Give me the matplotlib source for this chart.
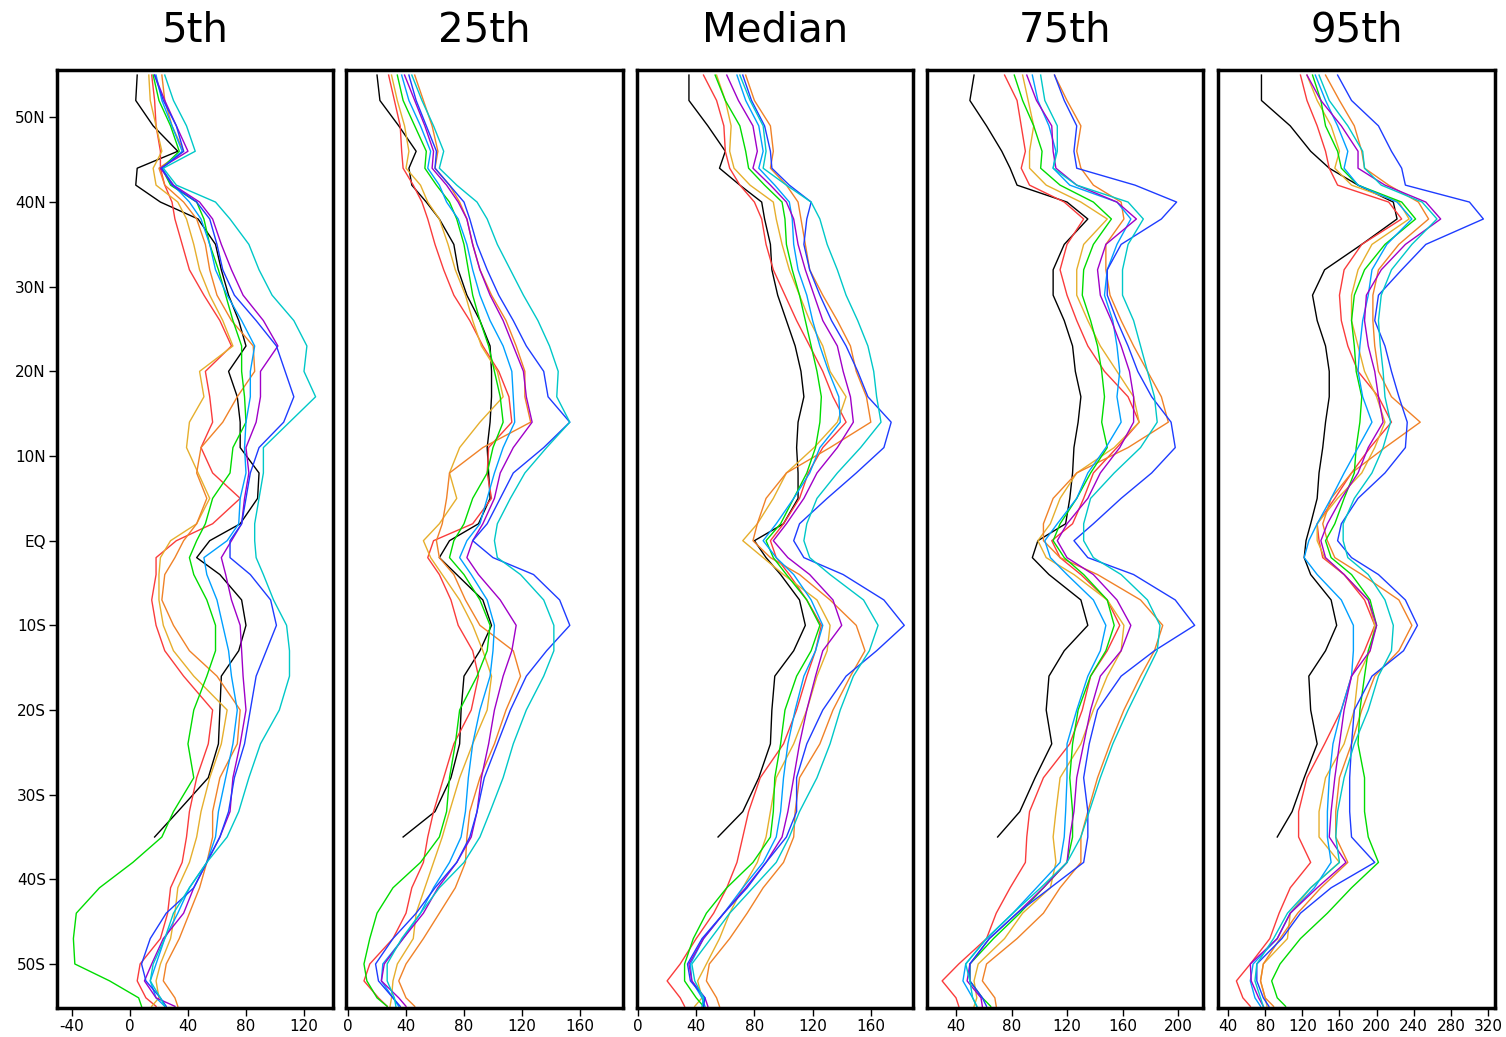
import numpy as np
import matplotlib
matplotlib.use("Agg")
import matplotlib.pyplot as plt

nan = np.nan
lats = [55, 52, 49, 46, 44, 42, 40, 38, 35, 32, 29, 26, 23, 20, 17, 14, 11, 8, 5, 2,
        0, -2, -4, -7, -10, -13, -16, -20, -24, -28, -32, -35, -38, -41, -44, -47, -50, -52, -54, -55]

titles = ["5th", "25th", "Median", "75th", "95th"]
series_names = ["black", "red", "gold", "orange", "green", "dodger", "purple", "blue", "cyan"]
colors = ["#000000", "#fa3c3c", "#e6af2d", "#f08228", "#00dc00", "#00a0ff", "#a000c8", "#1e3cff", "#00c8c8"]

# ---- 5th percentile ----
p05_black = [5,4,16,33,5,4,21,47,59,63, 68,75,80,68,74,76,76,89,88,76, 55,46,62,77,80,75,63,62,61,54, 33,17,nan,nan,nan,nan,nan,nan,nan,nan]
p05_red = [15,17,18,21,21,24,29,31,36,41, 51,62,70,52,55,57,49,57,76,57, 32,18,18,15,18,24,37,57,54,46, 41,39,36,28,26,21,7,5,11,18]
p05_gold = [13,14,18,22,16,18,33,39,44,48, 55,64,71,48,51,41,39,47,55,46, 28,21,20,20,23,30,44,67,63,55, 49,46,41,33,31,28,21,18,20,15]
p05_orange = [22,24,29,37,20,24,37,46,52,55, 60,70,85,86,74,64,49,46,53,46, 37,31,24,22,30,41,60,76,74,62, 57,57,53,48,41,34,25,23,31,33]
p05_green = [16,20,28,34,22,28,46,51,55,61, 66,71,77,77,79,80,71,69,57,52, 46,41,44,53,59,59,53,44,40,44, 30,22,2,-21,-37,-39,-38,-14,6,8]
p05_dodger = [18,22,29,36,22,30,41,49,55,59, 67,77,86,83,83,80,79,80,76,75, 67,51,53,60,64,68,70,74,71,66, 61,59,53,41,33,24,18,14,18,24]
p05_purple = [17,24,32,40,21,30,48,57,63,70, 78,92,102,90,90,87,80,82,79,77, 70,63,66,70,76,77,78,80,76,71, 69,62,53,44,37,23,15,10,18,31]
p05_blue = [17,23,32,37,22,29,46,55,60,64, 72,87,101,107,113,106,89,83,80,77, 69,69,83,97,101,94,87,83,79,72, 68,62,53,44,25,14,8,11,21,25]
p05_cyan = [24,30,39,45,23,32,59,69,82,89, 98,113,122,120,128,110,92,92,89,86, 86,87,92,99,108,110,110,103,90,82, 75,67,53,41,30,24,16,14,21,24]

# ---- 25th percentile ----
p25_black = [20,22,35,47,42,44,54,63,73,76, 82,91,98,99,99,98,96,97,98,90, 70,63,75,93,99,91,80,78,77,71, 60,38,nan,nan,nan,nan,nan,nan,nan,nan]
p25_red = [28,32,36,37,38,45,51,55,60,66, 73,84,93,104,111,113,97,96,99,86, 59,55,63,71,76,86,90,85,73,66, 59,55,52,44,40,31,15,11,21,27]
p25_gold = [30,34,39,42,40,50,55,63,69,74, 81,86,92,103,107,91,77,70,75,63, 52,57,65,77,86,93,99,96,86,77, 70,65,59,53,47,45,34,31,30,29]
p25_orange = [46,52,58,62,60,70,77,82,86,91, 99,109,116,122,122,126,93,70,68,65, 61,63,73,81,91,114,119,109,101,91, 84,82,81,74,63,52,40,35,40,46]
p25_green = [34,38,46,54,53,61,70,75,80,83, 86,91,97,101,105,107,100,96,86,80, 73,70,80,91,98,96,89,77,74,70, 68,63,50,31,20,15,11,13,20,27]
p25_dodger = [37,42,50,57,55,63,68,76,82,86, 91,98,107,113,114,115,107,101,96,91, 82,77,85,96,101,100,98,91,86,83, 81,78,70,59,50,38,24,23,31,35]
p25_purple = [39,46,53,59,58,68,76,82,86,91, 98,107,114,121,123,127,114,105,101,93, 86,82,90,105,116,113,107,101,97,92, 89,85,75,62,52,38,25,23,35,40]
p25_blue = [42,47,54,61,60,70,80,84,89,96, 104,114,123,135,138,153,135,114,105,96, 86,100,128,146,153,137,123,112,103,94, 89,84,75,60,47,31,19,21,31,36]
p25_cyan = [44,51,59,66,63,75,89,96,103,112, 121,131,139,145,144,153,137,122,112,103, 101,103,119,135,142,142,135,123,114,107, 98,91,80,63,50,37,27,27,32,33]

# ---- Median ----
p50_black = [35,35,48,60,56,70,85,87,91,92, 96,102,108,112,114,110,109,110,110,100, 80,88,98,111,115,107,94,92,91,83, 72,55,nan,nan,nan,nan,nan,nan,nan,nan]
p50_red = [45,54,59,60,63,70,80,85,88,93, 101,109,118,127,134,143,127,117,111,100, 91,95,104,116,126,122,116,109,100,84, 76,72,68,61,52,40,29,20,29,32]
p50_gold = [54,60,64,63,66,77,93,95,99,104, 111,118,127,132,143,137,121,102,93,82, 72,86,100,123,132,130,123,116,107,95, 91,88,82,72,63,56,47,41,44,39]
p50_orange = [74,80,91,93,91,102,110,112,115,118, 127,137,146,150,157,160,132,102,88,82, 79,91,111,132,150,156,146,134,125,111, 108,107,100,86,75,63,49,47,54,56]
p50_green = [53,60,70,74,76,87,99,101,102,106, 111,115,119,123,126,125,122,116,107,98, 88,93,102,116,125,119,109,101,98,94, 93,91,79,61,47,38,32,32,40,45]
p50_dodger = [68,74,83,86,83,94,104,106,107,110, 116,120,125,131,138,139,125,118,107,95, 86,95,107,119,127,122,114,108,103,100, 98,95,86,72,59,45,36,37,44,46]
p50_purple = [61,69,79,82,79,91,102,107,110,115, 121,127,137,141,146,148,137,123,114,102, 93,103,118,134,140,127,122,116,111,107, 103,99,88,74,59,45,35,37,46,48]
p50_blue = [72,78,87,91,92,104,119,116,114,118, 125,133,143,151,158,174,169,150,130,111, 107,114,141,169,183,164,143,127,116,109, 109,102,88,75,59,44,34,36,46,45]
p50_cyan = [70,77,86,88,86,102,119,125,130,137, 143,151,158,162,164,167,153,137,123,116, 114,118,132,155,165,159,148,139,132,123, 111,104,95,79,63,50,37,39,45,44]

# ---- 75th percentile ----
p75_black = [53,50,62,73,79,84,120,135,118,110, 110,118,124,126,130,128,125,124,122,119, 99,95,107,130,135,118,107,105,109,97, 86,70,nan,nan,nan,nan,nan,nan,nan,nan]
p75_red = [75,84,87,90,87,93,118,132,120,115, 120,127,135,147,164,172,156,139,132,124, 109,115,130,149,158,149,137,131,122,103, 93,91,90,79,69,62,42,30,40,42]
p75_gold = [88,92,96,93,93,105,130,149,132,127, 127,135,144,156,168,172,154,127,115,108, 99,105,125,149,161,159,149,139,130,115, 112,110,112,108,88,75,56,53,55,53]
p75_orange = [111,120,130,127,130,139,159,161,148,148, 151,159,168,178,188,193,164,127,110,103, 103,115,142,173,189,183,173,161,151,142, 135,130,130,115,103,84,62,59,68,69]
p75_green = [82,88,96,102,101,115,139,152,139,132, 131,137,142,145,147,145,149,137,127,115, 110,118,132,149,154,148,137,128,124,122, 124,124,120,103,86,67,50,50,59,65]
p75_dodger = [95,99,107,112,110,122,156,166,156,149, 147,153,156,158,156,159,148,135,127,113, 104,108,120,139,148,144,135,127,120,120, 119,118,115,98,81,62,47,45,52,55]
p75_purple = [91,98,109,110,112,127,156,170,148,142, 144,152,159,165,168,168,158,144,135,120, 113,120,139,156,166,159,144,137,132,127, 125,122,120,103,84,64,50,48,58,59]
p75_blue = [111,118,127,125,127,169,199,188,159,149, 149,156,164,171,181,195,198,181,159,139, 125,135,168,198,212,183,159,142,136,132, 135,135,132,108,84,64,50,50,59,62]
p75_cyan = [101,104,113,113,110,127,164,175,164,160, 160,168,173,178,183,185,173,154,137,132, 132,139,159,178,187,185,176,164,153,144, 136,130,120,101,81,62,47,50,52,55]

# ---- 95th percentile ----
p95_black = [76,76,107,129,149,180,218,222,184,144, 131,136,145,149,149,145,142,138,136,129, 124,122,129,151,157,145,127,129,136,122, 109,93,nan,nan,nan,nan,nan,nan,nan,nan]
p95_red = [118,125,136,145,149,158,213,227,184,165, 160,162,169,180,202,216,193,173,155,136, 138,142,165,187,198,187,173,162,144,125, 116,116,129,107,95,85,64,49,56,64]
p95_gold = [125,136,151,160,155,173,224,235,195,180, 173,173,180,187,200,209,198,184,158,136, 136,144,165,191,198,193,180,176,165,145, 138,138,160,129,107,104,78,75,80,82]
p95_orange = [145,160,176,184,187,213,245,256,224,202, 196,196,198,202,216,247,209,173,151,142, 147,155,184,224,238,224,198,184,173,160, 156,156,169,140,115,96,78,75,80,89]
p95_green = [131,140,145,158,162,180,227,242,209,187, 176,173,176,178,184,182,178,176,165,155, 145,151,173,193,200,191,187,182,180,187, 187,191,202,173,147,118,96,87,93,102]
p95_dodger = [134,145,158,169,165,180,222,238,211,195, 191,185,182,180,185,195,180,165,151,136, 127,122,136,162,175,175,173,162,153,149, 147,147,151,133,107,93,67,64,69,75]
p95_purple = [125,140,162,180,180,209,253,269,231,205, 189,187,191,198,202,207,191,180,162,147, 140,145,165,191,200,193,173,165,160,155, 151,149,167,136,107,93,64,65,73,78]
p95_blue = [158,173,202,216,227,231,300,315,253,227, 202,198,209,216,224,233,231,209,180,162, 158,173,202,231,244,229,195,176,173,171, 171,173,198,151,118,98,71,71,78,84]
p95_cyan = [138,149,169,185,187,205,249,265,238,216, 205,202,204,207,209,215,207,195,176,164, 164,169,191,209,218,216,202,191,176,165, 158,156,160,129,104,89,71,69,75,78]

panels = [
    [p05_black, p05_red, p05_gold, p05_orange, p05_green, p05_dodger, p05_purple, p05_blue, p05_cyan],
    [p25_black, p25_red, p25_gold, p25_orange, p25_green, p25_dodger, p25_purple, p25_blue, p25_cyan],
    [p50_black, p50_red, p50_gold, p50_orange, p50_green, p50_dodger, p50_purple, p50_blue, p50_cyan],
    [p75_black, p75_red, p75_gold, p75_orange, p75_green, p75_dodger, p75_purple, p75_blue, p75_cyan],
    [p95_black, p95_red, p95_gold, p95_orange, p95_green, p95_dodger, p95_purple, p95_blue, p95_cyan],
]

xticks = [[-40, 0, 40, 80, 120], [0, 40, 80, 120, 160], [0, 40, 80, 120, 160],
          [40, 80, 120, 160, 200], [40, 80, 120, 160, 200, 240, 280, 320]]
xlims = [(-50.3, 140), (-1.4, 189.7), (-0.7, 189), (19.1, 218), (29.2, 327.5)]
ytick_vals = [50, 40, 30, 20, 10, 0, -10, -20, -30, -40, -50]
ytick_labels = ["50N", "40N", "30N", "20N", "10N", "EQ", "10S", "20S", "30S", "40S", "50S"]

W, H = 1506, 1037
fig = plt.figure(figsize=(W / 100, H / 100), dpi=100)
lefts = [57, 346, 637, 927, 1218]
widths = [276, 277, 276, 276, 277]
top_px, bot_px = 70, 1008

for i in range(5):
    ax = fig.add_axes([lefts[i] / W, 1 - bot_px / H, widths[i] / W, (bot_px - top_px) / H])
    for vals, c in zip(panels[i], colors):
        ax.plot(vals, lats, color=c, lw=1.0)
    ax.set_xlim(*xlims[i])
    ax.set_ylim(-55.2, 55.6)
    ax.set_xticks(xticks[i])
    ax.set_xticklabels([str(v) for v in xticks[i]], fontsize=11)
    if i == 0:
        ax.set_yticks(ytick_vals)
        ax.set_yticklabels(ytick_labels, fontsize=11)
    else:
        ax.set_yticks([])
    ax.tick_params(direction="out", length=6, width=1, pad=2)
    for s in ax.spines.values():
        s.set_linewidth(2.5)
    fig.text((lefts[i] + widths[i] / 2) / W, 1 - 30 / H, titles[i],
             ha="center", va="center", fontsize=29)

fig.savefig("out.png", dpi=100)
